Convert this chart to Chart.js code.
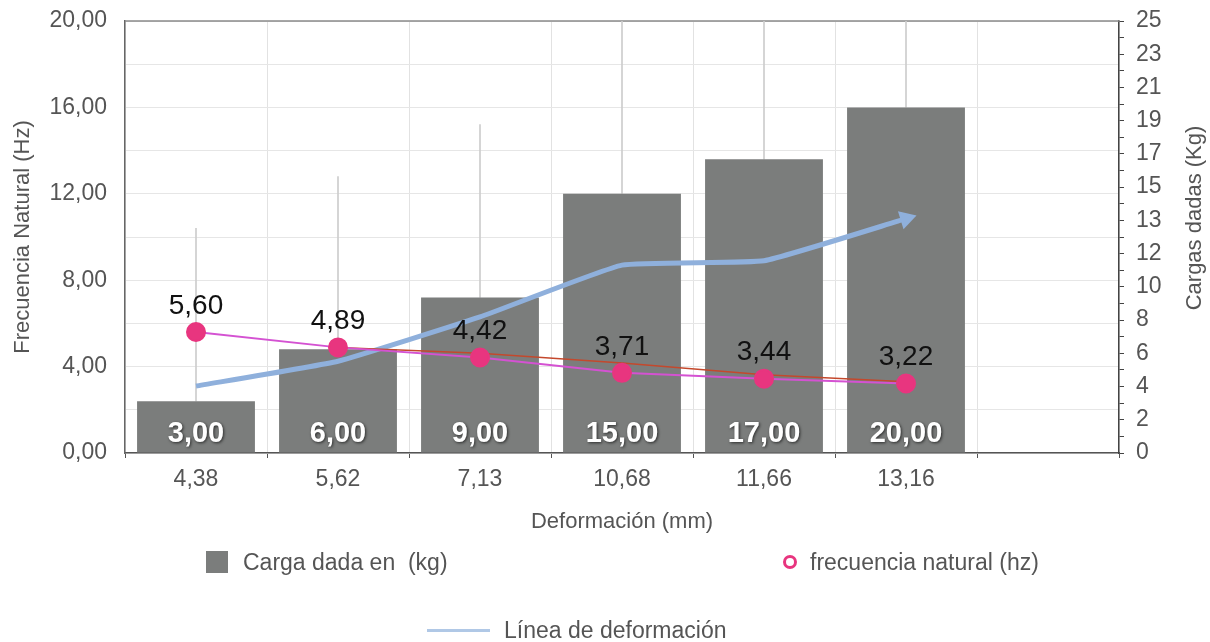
<!DOCTYPE html>
<html lang="es">
<head>
<meta charset="utf-8">
<script src="https://cdn.jsdelivr.net/npm/chart.js@4.4.1/dist/chart.umd.min.js"></script>
<style>
  body { margin: 0; background: #fff; }
  #wrap { position: relative; width: 1210px; height: 642px; }
  .lg { position: absolute; font: 23px "Liberation Sans", Arial, sans-serif; color: #555; white-space: pre; line-height: 24px; }
  .sw { position: absolute; }
</style>
</head>
<body>
<div id="wrap">
  <canvas id="chart"></canvas>
  <div id="legend"></div>
</div>
<script>
const categories = ["4,38", "5,62", "7,13", "10,68", "11,66", "13,16", ""];
const cargas = [3, 6, 9, 15, 17, 20];
const cargaError = [10, 10, 10, 10, 10, 10];
const frecuencia = [5.6, 4.89, 4.42, 3.71, 3.44, 3.22];
const tendencia = [null, 4.89, 4.62, 4.17, 3.62, 3.3];
const deformacion = [3.1, 4.25, 6.3, 8.7, 8.9, 10.85];

const fmt = (v) => v.toFixed(2).replace(".", ",");
const FONT = '"Liberation Sans", Arial, sans-serif';
const TXT = "#555";

Chart.defaults.font.family = FONT;
Chart.defaults.color = TXT;

const extras = {
  id: "extras",
  beforeDatasetsDraw(chart) {
    const { ctx, chartArea } = chart;
    ctx.save();
    ctx.strokeStyle = "#8a8a8a";
    ctx.lineWidth = 1.5;
    ctx.beginPath();
    ctx.moveTo(chartArea.left, chartArea.top);
    ctx.lineTo(chartArea.right, chartArea.top);
    ctx.stroke();
    ctx.restore();
  },
  afterDatasetsDraw(chart) {
    const { ctx } = chart;
    ctx.save();
    ctx.textAlign = "center";
    ctx.textBaseline = "middle";

    // valores en las barras
    const barMeta = chart.getDatasetMeta(4);
    ctx.font = "bold 29px " + FONT;
    ctx.fillStyle = "#fff";
    ctx.shadowColor = "rgba(0,0,0,0.65)";
    ctx.shadowBlur = 3;
    ctx.shadowOffsetX = 1;
    ctx.shadowOffsetY = 1;
    barMeta.data.forEach((bar, i) => {
      ctx.fillText(fmt(cargas[i]), bar.x, bar.base - 19);
    });

    // valores de frecuencia
    ctx.shadowColor = "transparent";
    ctx.font = "28px " + FONT;
    ctx.fillStyle = "#111";
    chart.getDatasetMeta(0).data.forEach((pt, i) => {
      ctx.fillText(fmt(frecuencia[i]), pt.x, pt.y - 26);
    });

    // titulo eje derecho
    ctx.font = "22px " + FONT;
    ctx.fillStyle = TXT;
    ctx.translate(1195, 218);
    ctx.rotate(-Math.PI / 2);
    ctx.fillText("Cargas dadas (Kg)", 0, 0);
    ctx.restore();
  },
};

const chart = new Chart(document.getElementById("chart"), {
  type: "bar",
  data: {
    labels: categories,
    datasets: [
      {
        type: "line",
        label: "frecuencia natural (hz)",
        data: frecuencia,
        yAxisID: "y",
        borderColor: "#d452d2",
        borderWidth: 2,
        pointBackgroundColor: "#e8357f",
        pointBorderColor: "#e8357f",
        pointRadius: 9,
        order: 0,
      },
      {
        type: "line",
        label: "tendencia",
        data: tendencia,
        yAxisID: "y",
        borderColor: "#c4482c",
        borderWidth: 1.5,
        pointRadius: 0,
        order: 1,
      },
      {
        type: "line",
        label: "Línea de deformación",
        data: deformacion,
        yAxisID: "y",
        borderColor: "#8fb0dc",
        backgroundColor: "#8fb0dc",
        borderWidth: 5,
        tension: 0.12,
        pointStyle: "triangle",
        pointRadius: [0, 0, 0, 0, 0, 11],
        pointRotation: 73,
        pointBorderWidth: 0,
        order: 2,
      },
      {
        label: "error",
        data: cargas.map((v, i) => [v, v + cargaError[i]]),
        yAxisID: "y1",
        backgroundColor: "#cdcdcd",
        barThickness: 1,
        grouped: false,
        order: 4,
      },
      {
        label: "Carga dada en  (kg)",
        data: cargas,
        yAxisID: "y1",
        backgroundColor: "#7b7d7c",
        barPercentage: 0.83,
        categoryPercentage: 1,
        grouped: false,
        order: 3,
      },
    ],
  },
  options: {
    responsive: true,
    maintainAspectRatio: false,
    animation: false,
    layout: { padding: { top: 21, bottom: 106.8, left: 0, right: 0 } },
    plugins: { legend: { display: false }, tooltip: { enabled: false } },
    scales: {
      x: {
        offset: true,
        grid: { offset: true, color: "#e2e2e2", tickColor: "#555", tickLength: 5 },
        border: { color: "#555", width: 1.5 },
        ticks: { font: { size: 23 }, color: TXT, padding: 8, maxRotation: 0 },
        title: { display: true, text: "Deformación (mm)", font: { size: 22 }, color: TXT, padding: { top: 0, bottom: 0 } },
        afterFit: (s) => { s.height = 82.2; },
      },
      y: {
        position: "left",
        min: 0,
        max: 20,
        grid: { color: "#e6e6e6", drawTicks: false },
        border: { color: "#666", width: 1.5 },
        ticks: {
          stepSize: 2,
          autoSkip: false,
          padding: 18,
          font: { size: 23 },
          color: TXT,
          callback: (v) => (v % 4 === 0 ? fmt(v) : ""),
        },
        title: { display: true, text: "Frecuencia Natural (Hz)", font: { size: 22 }, color: TXT, padding: { top: 10, bottom: 0 } },
        afterFit: (s) => { s.width = 125; s.paddingTop = 0; s.paddingBottom = 0; },
      },
      y1: {
        position: "right",
        min: 0,
        max: 25,
        grid: { drawOnChartArea: false, drawTicks: true, tickLength: 5, tickColor: "#444" },
        border: { color: "#444", width: 1.5 },
        afterBuildTicks: (s) => {
          const t = [];
          for (let i = 0; i <= 26; i++) t.push({ value: (i * 25) / 26 });
          s.ticks = t;
        },
        ticks: {
          autoSkip: false,
          padding: 12,
          font: { size: 23 },
          color: TXT,
          callback: (v, i) => (i % 2 === 0 ? String(Math.round(v)) : ""),
        },
        afterFit: (s) => { s.width = 91; s.paddingTop = 0; s.paddingBottom = 0; },
      },
    },
  },
  plugins: [extras],
});

// leyenda
const legend = document.getElementById("legend");
const items = [
  { ds: 4, x: 206, y: 562, kind: "square" },
  { ds: 0, x: 790, y: 562, kind: "ring" },
  { ds: 2, x: 427, y: 630, kind: "line" },
];
items.forEach((it) => {
  const ds = chart.data.datasets[it.ds];
  const sw = document.createElement("div");
  sw.className = "sw";
  let textX;
  if (it.kind === "square") {
    Object.assign(sw.style, { left: it.x + "px", top: it.y - 11 + "px", width: "22px", height: "22px", background: ds.backgroundColor });
    textX = it.x + 37;
  } else if (it.kind === "ring") {
    Object.assign(sw.style, { left: it.x - 7 + "px", top: it.y - 7 + "px", width: "8px", height: "8px", border: "3px solid " + ds.pointBackgroundColor, borderRadius: "50%" });
    textX = it.x + 20;
  } else {
    Object.assign(sw.style, { left: it.x + "px", top: it.y - 1 + "px", width: "63px", height: "3px", background: ds.borderColor, opacity: 0.7 });
    textX = it.x + 77;
  }
  legend.appendChild(sw);
  const tx = document.createElement("div");
  tx.className = "lg";
  tx.style.left = textX + "px";
  tx.style.top = it.y - 12 + "px";
  tx.textContent = ds.label;
  legend.appendChild(tx);
});
</script>
</body>
</html>
